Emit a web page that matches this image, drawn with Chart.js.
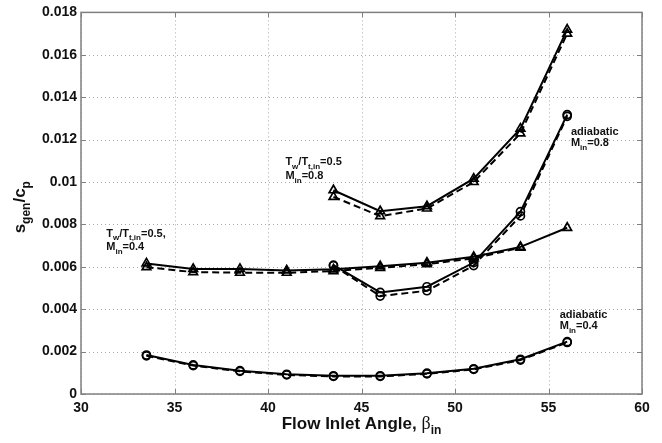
<!DOCTYPE html>
<html><head><meta charset="utf-8">
<script src="https://cdn.jsdelivr.net/npm/chart.js@4/dist/chart.umd.min.js"></script>
<style>html,body{margin:0;padding:0;background:#fff}#wrap{width:662px;height:443px}</style>
</head><body><div id="wrap"><canvas id="c" width="662" height="443"></canvas></div>
<script>
// ---- data ----
const angles = [33.5, 36, 38.5, 41, 43.5, 46, 48.5, 51, 53.5, 56];
const anglesHigh = [43.5, 46, 48.5, 51, 53.5, 56];
const adiab04Solid  = [0.00184, 0.00137, 0.00110, 0.00093, 0.00086, 0.00086, 0.00098, 0.00119, 0.00164, 0.00247];
const adiab04Dashed = [0.00180, 0.00134, 0.00107, 0.00090, 0.00083, 0.00083, 0.00095, 0.00116, 0.00160, 0.00243];
const adiab08Solid  = [0.00608, 0.00479, 0.00506, 0.00620, 0.00860, 0.01318];
const adiab08Dashed = [0.00605, 0.00462, 0.00487, 0.00606, 0.00840, 0.01310];
const cool04Solid   = [0.00616, 0.00590, 0.00590, 0.00583, 0.00588, 0.00603, 0.00619, 0.00647, 0.00694, 0.00784];
const cool04Dashed  = [0.00598, 0.00575, 0.00572, 0.00572, 0.00580, 0.00595, 0.00612, 0.00640, 0.00690, null];
const cool08Solid   = [0.00961, 0.00862, 0.00886, 0.01016, 0.01252, 0.01719];
const cool08Dashed  = [0.00930, 0.00839, 0.00875, 0.01000, 0.01229, 0.01700];
const xTickValues = [30, 35, 40, 45, 50, 55, 60];
const yTickLabels = ['0', '0.002', '0.004', '0.006', '0.008', '0.01', '0.012', '0.014', '0.016', '0.018'];

const FONT = "'Liberation Sans', Arial, sans-serif";

function pts(xs, ys) {
  const out = [];
  xs.forEach((x, i) => { if (ys[i] !== null && ys[i] !== undefined) out.push({x: x, y: ys[i]}); });
  return out;
}
function ds(xs, ys, dashed, style) {
  return {
    data: pts(xs, ys),
    borderColor: '#000',
    borderWidth: 2,
    borderDash: dashed ? [7, 4] : [],
    pointStyle: style,
    pointRadius: style === 'triangle' ? 5 : 4,
    pointBorderWidth: 1.7,
    pointBorderColor: '#000',
    pointBackgroundColor: 'rgba(255,255,255,0)',
    fill: false,
    tension: 0
  };
}

function richWidth(ctx, parts, mainFont, subFont) {
  let w = 0;
  parts.forEach(p => { ctx.font = p[2] || (p[1] ? subFont : mainFont); w += ctx.measureText(p[0]).width; });
  return w;
}
function drawRich(ctx, parts, x, y, mainFont, subFont, subOff) {
  ctx.textAlign = 'left';
  ctx.textBaseline = 'alphabetic';
  parts.forEach(p => {
    ctx.font = p[2] || (p[1] ? subFont : mainFont);
    ctx.fillText(p[0], x, y + (p[1] ? subOff : 0));
    x += ctx.measureText(p[0]).width;
  });
}

const annotations = [
  {x: 31.35, y: 0.00741, gap: 13.5, lines: [[['T',0],['w',1],['/T',0],['t,in',1],['=0.5,',0]], [['M',0],['in',1],['=0.4',0]]]},
  {x: 40.93, y: 0.01079, gap: 14, lines: [[['T',0],['w',1],['/T',0],['t,in',1],['=0.5',0]], [['M',0],['in',1],['=0.8',0]]]},
  {x: 56.2, y: 0.01222, gap: 11.5, lines: [[['adiabatic',0]], [['M',0],['in',1],['=0.8',0]]]},
  {x: 55.6, y: 0.00360, gap: 11.5, lines: [[['adiabatic',0]], [['M',0],['in',1],['=0.4',0]]]}
];

const grid = {
  id: 'dotgrid',
  beforeDatasetsDraw(chart) {
    const ctx = chart.ctx, a = chart.chartArea;
    const xs = chart.scales.x, ys = chart.scales.y;
    ctx.save();
    ctx.strokeStyle = '#a8a8a8';
    ctx.lineWidth = 1;
    ctx.setLineDash([1, 3]);
    ctx.beginPath();
    xTickValues.forEach(v => {
      const px = Math.round(xs.getPixelForValue(v)) + 0.5;
      ctx.moveTo(px, a.top); ctx.lineTo(px, a.bottom);
    });
    yTickLabels.forEach(l => {
      const py = Math.round(ys.getPixelForValue(parseFloat(l))) + 0.5;
      ctx.moveTo(a.left, py); ctx.lineTo(a.right, py);
    });
    ctx.stroke();
    ctx.restore();
  }
};

const decor = {
  id: 'decor',
  afterDraw(chart) {
    const ctx = chart.ctx, a = chart.chartArea;
    const xs = chart.scales.x, ys = chart.scales.y;
    ctx.save();
    ctx.strokeStyle = '#808080';
    ctx.lineWidth = 1.5;
    ctx.setLineDash([]);
    ctx.strokeRect(a.left, a.top, a.right - a.left, a.bottom - a.top);
    ctx.lineWidth = 1;
    ctx.beginPath();
    xTickValues.forEach(v => {
      const px = Math.round(xs.getPixelForValue(v)) + 0.5;
      ctx.moveTo(px, a.bottom); ctx.lineTo(px, a.bottom - 5);
      ctx.moveTo(px, a.top); ctx.lineTo(px, a.top + 5);
    });
    yTickLabels.forEach(l => {
      const py = Math.round(ys.getPixelForValue(parseFloat(l))) + 0.5;
      ctx.moveTo(a.left, py); ctx.lineTo(a.left + 5, py);
      ctx.moveTo(a.right, py); ctx.lineTo(a.right - 5, py);
    });
    ctx.stroke();

    ctx.fillStyle = '#111';
    annotations.forEach(an => {
      const px = xs.getPixelForValue(an.x);
      let py = ys.getPixelForValue(an.y);
      an.lines.forEach(line => {
        drawRich(ctx, line, px, py, 'bold 11px ' + FONT, 'bold 8px ' + FONT, 3.5);
        py += an.gap;
      });
    });

    const xt = [['Flow Inlet Angle, ',0],['\u03B2',0,"18px 'Liberation Serif', serif"],['in',1]];
    const mf = 'bold 17px ' + FONT, sf = 'bold 12px ' + FONT;
    const w = richWidth(ctx, xt, mf, sf);
    drawRich(ctx, xt, (a.left + a.right) / 2 - w / 2, 429, mf, sf, 5);

    const yt = [['s',0],['gen',1],['/c',0],['p',1]];
    const wy = richWidth(ctx, yt, mf, sf);
    ctx.translate(25, (a.top + a.bottom) / 2 + 4);
    ctx.rotate(-Math.PI / 2);
    drawRich(ctx, yt, -wy / 2, 0, mf, sf, 5);
    ctx.restore();
  }
};

new Chart(document.getElementById('c'), {
  type: 'line',
  data: {
    datasets: [
      ds(angles, adiab04Solid, false, 'circle'),
      ds(angles, adiab04Dashed, true, 'circle'),
      ds(anglesHigh, adiab08Solid, false, 'circle'),
      ds(anglesHigh, adiab08Dashed, true, 'circle'),
      ds(angles, cool04Solid, false, 'triangle'),
      ds(angles, cool04Dashed, true, 'triangle'),
      ds(anglesHigh, cool08Solid, false, 'triangle'),
      ds(anglesHigh, cool08Dashed, true, 'triangle')
    ]
  },
  options: {
    responsive: false,
    animation: false,
    devicePixelRatio: 1,
    layout: {padding: {top: 12, right: 20, bottom: 0, left: 0}},
    plugins: {legend: {display: false}, tooltip: {enabled: false}},
    scales: {
      x: {
        type: 'linear', min: 30, max: 60,
        afterBuildTicks: s => { s.ticks = xTickValues.map(v => ({value: v})); },
        ticks: {font: {family: FONT, size: 14, weight: 'bold'}, color: '#111', padding: 6, maxRotation: 0,
                callback: v => String(v)},
        grid: {display: false, drawTicks: false},
        border: {display: false},
        afterFit: s => { s.height = 49; }
      },
      y: {
        type: 'linear', min: 0, max: 0.018,
        afterBuildTicks: s => { s.ticks = yTickLabels.map(l => ({value: parseFloat(l)})); },
        ticks: {font: {family: FONT, size: 14, weight: 'bold'}, color: '#111', padding: 4,
                callback: (v, i) => yTickLabels[i]},
        grid: {display: false, drawTicks: false},
        border: {display: false},
        afterFit: s => { s.width = 81; }
      }
    }
  },
  plugins: [grid, decor]
});
</script>
</body></html>
